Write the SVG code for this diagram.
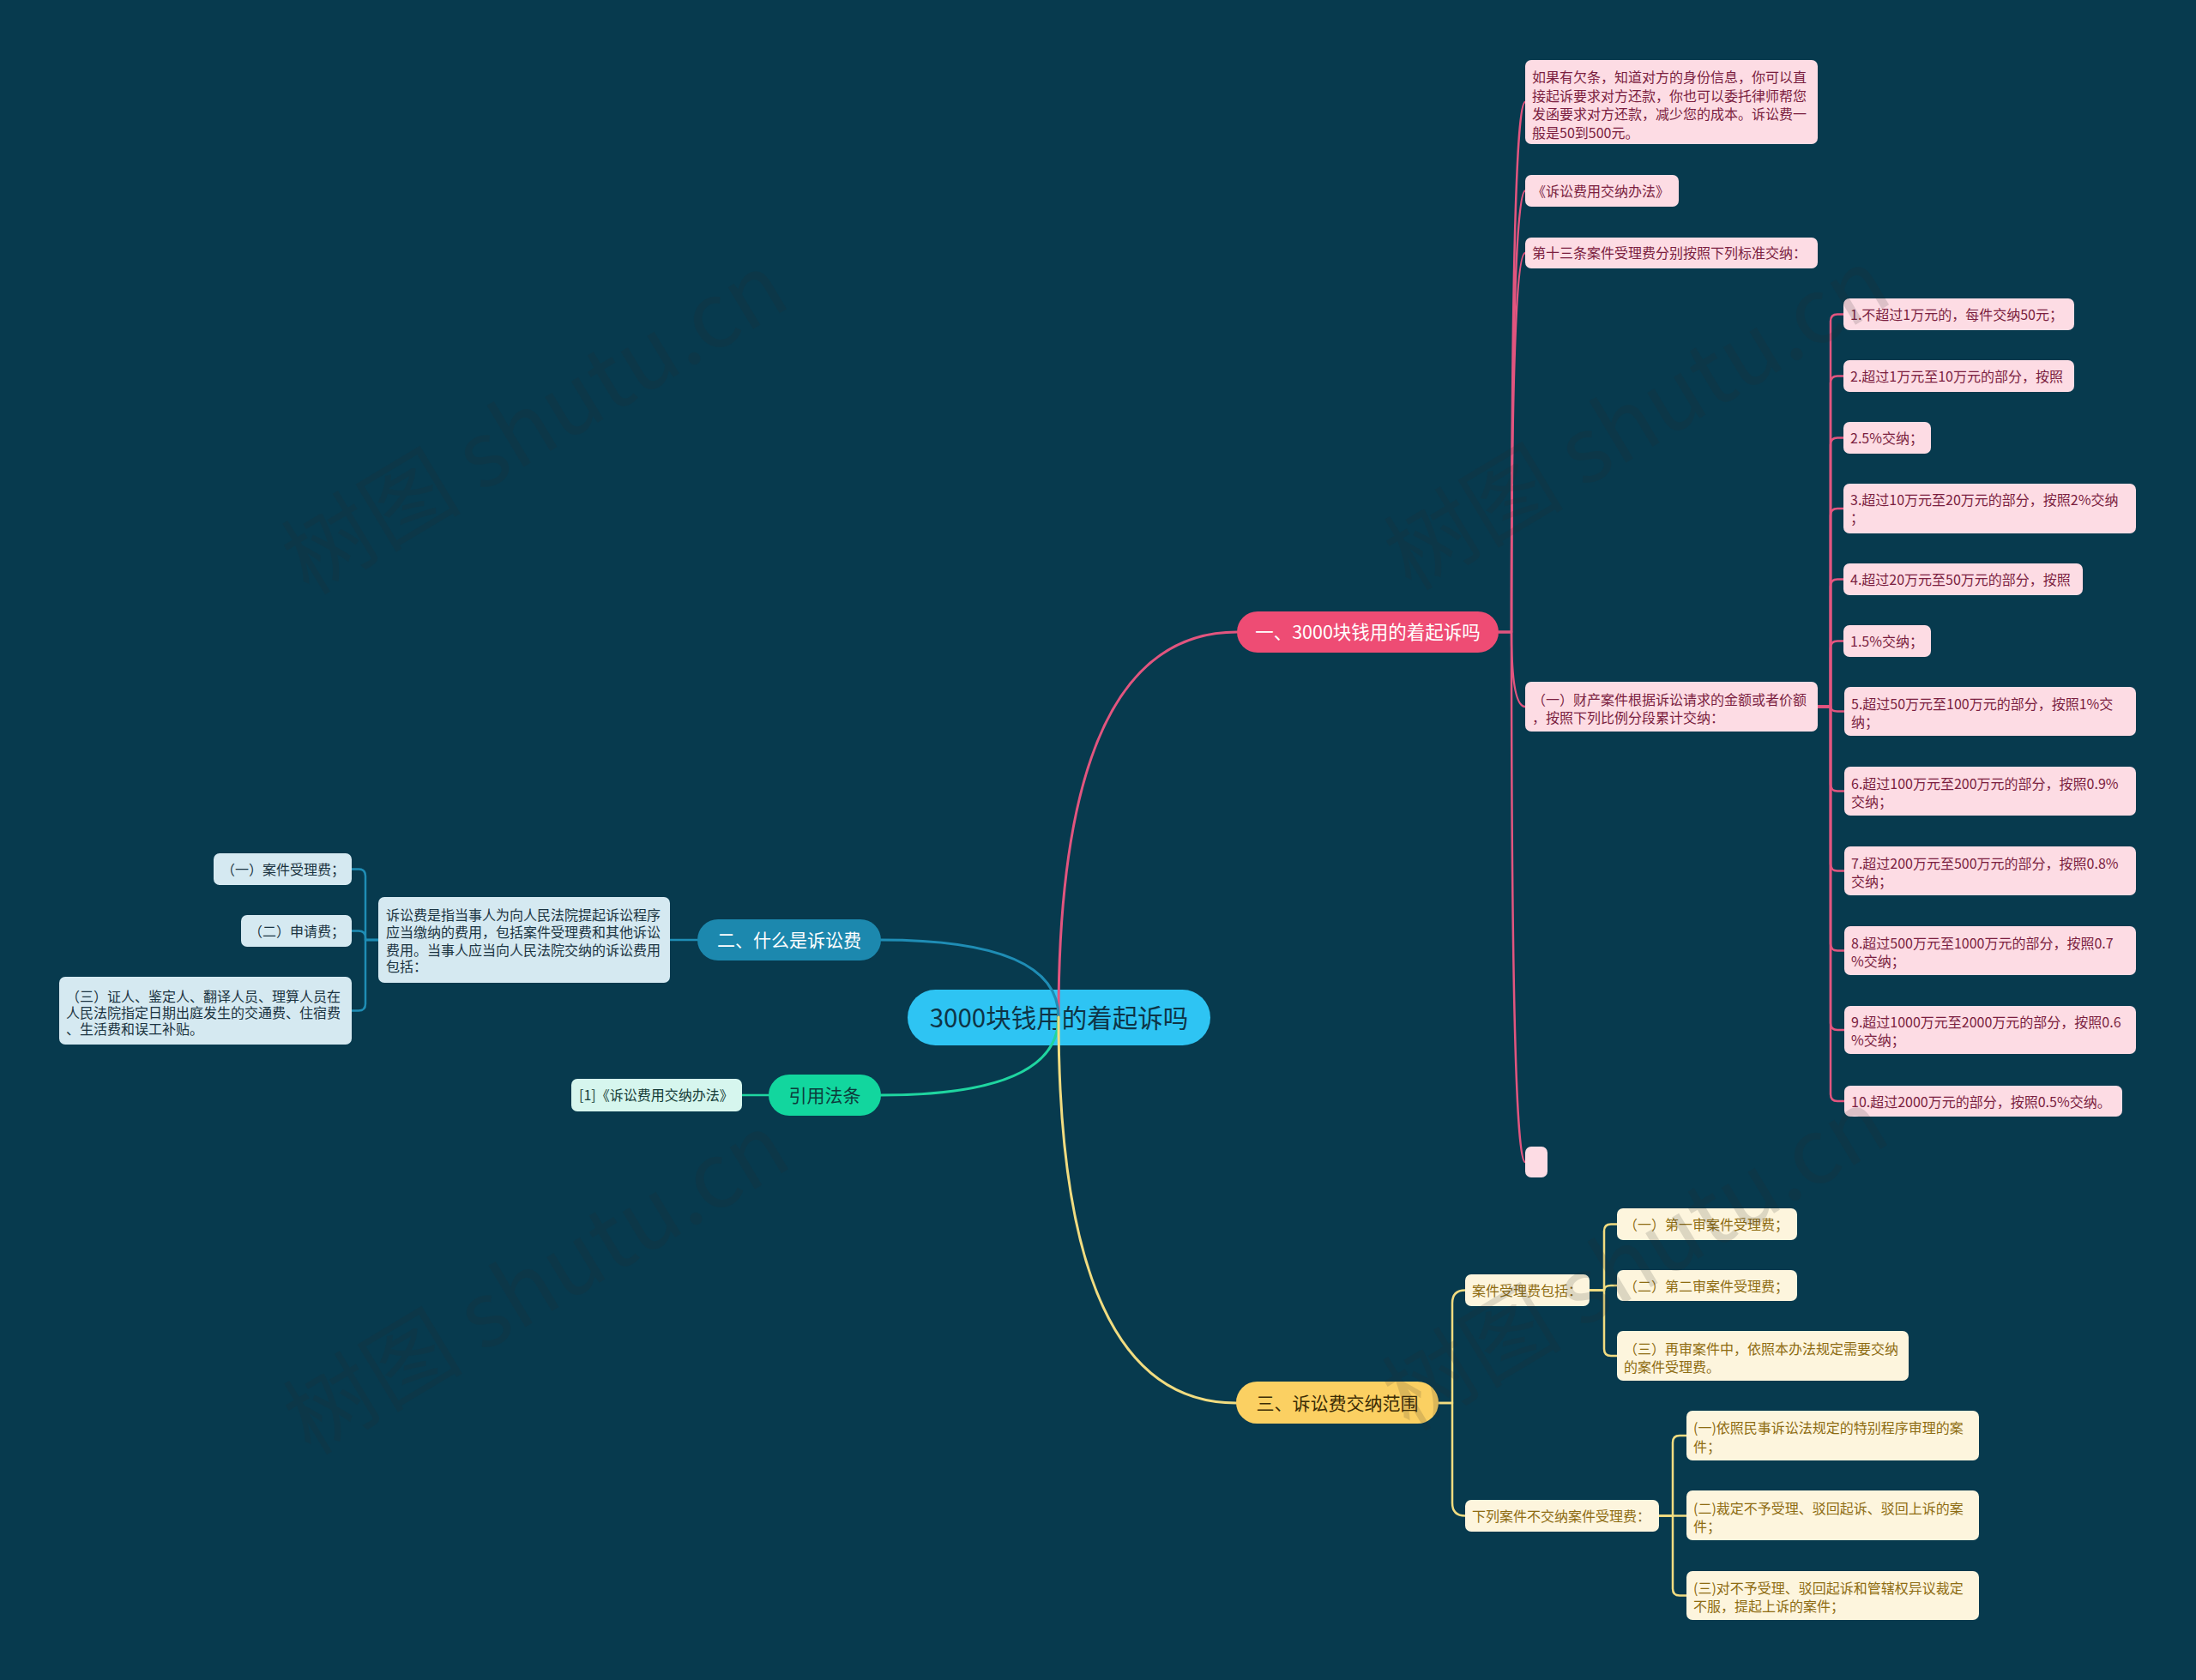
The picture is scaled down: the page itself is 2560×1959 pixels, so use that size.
<svg xmlns="http://www.w3.org/2000/svg" width="2560" height="1959" viewBox="0 0 2560 1959">
<style>
text{font-family:"Noto Sans CJK SC","Noto Sans",sans-serif}
.t{font-size:16px}
.pkb{fill:#fddce4}
.pkt{fill:#7b1e3f}
.blb{fill:#d5e9f1}
.blt{fill:#1b3441}
.grb{fill:#d6f6ee}
.grt{fill:#143b36}
.yeb{fill:#fdf5dd}
.yet{fill:#8e6c12}
.c{fill:none;stroke-width:2.5;stroke-linecap:round;stroke-linejoin:round}
.cm{fill:none;stroke-width:3;stroke-linecap:round}
.pk{stroke:#e2557f}
.bl{stroke:#1f8db5}
.gr{stroke:#1fd5a0}
.ye{stroke:#f1dc80}
.wm{font-size:105px;fill:#2a2a2a;opacity:0.15}
</style>
<rect x="0" y="0" width="2560" height="1959" fill="#073a4e"/>

<g id="root">
<rect x="1058" y="1154" width="353" height="65" rx="32.5" fill="#2ec4f3"/>
<text x="1234.5" y="1197.5" text-anchor="middle" font-size="29.5" fill="#0e3446">3000块钱用的着起诉吗</text>
</g>

<g id="connectors">
<path class="cm pk" d="M1234,1186 Q1234,737 1442,737"/>
<path class="cm bl" d="M1234,1186 Q1234,1096 1027,1096"/>
<path class="cm gr" d="M1234,1186 Q1234,1277 1027,1277"/>
<path class="cm ye" d="M1234,1186 Q1234,1636 1441,1636"/>

<path class="c pk" d="M1747,737 H1762 Q1762,119 1778,119"/>
<path class="c pk" d="M1747,737 H1762 Q1762,222.5 1778,222.5"/>
<path class="c pk" d="M1747,737 H1762 Q1762,295 1778,295"/>
<path class="c pk" d="M1747,737 H1762 Q1762,824 1778,824"/>
<path class="c pk" d="M1747,737 H1762 Q1762,1355 1778,1355"/>

<path class="c pk" d="M2119,824 H2134 V374.5 Q2134,366.5 2142,366.5 H2150"/>
<path class="c pk" d="M2119,824 H2134 V446.5 Q2134,438.5 2142,438.5 H2150"/>
<path class="c pk" d="M2119,824 H2134 V518.5 Q2134,510.5 2142,510.5 H2150"/>
<path class="c pk" d="M2119,824 H2134 V601 Q2134,593 2142,593 H2150"/>
<path class="c pk" d="M2119,824 H2134 V683.5 Q2134,675.5 2142,675.5 H2150"/>
<path class="c pk" d="M2119,824 H2134 V755.5 Q2134,747.5 2142,747.5 H2150"/>
<path class="c pk" d="M2119,824 H2134 Q2134,829.5 2142,829.5 H2150"/>
<path class="c pk" d="M2119,824 H2134 V914.5 Q2134,922.5 2142,922.5 H2150"/>
<path class="c pk" d="M2119,824 H2134 V1007.5 Q2134,1015.5 2142,1015.5 H2150"/>
<path class="c pk" d="M2119,824 H2134 V1100.5 Q2134,1108.5 2142,1108.5 H2150"/>
<path class="c pk" d="M2119,824 H2134 V1193 Q2134,1201 2142,1201 H2150"/>
<path class="c pk" d="M2119,824 H2134 V1276 Q2134,1284 2142,1284 H2150"/>

<path class="c bl" d="M813,1096 H781"/>
<path class="c bl" d="M441,1096 H426 V1021.5 Q426,1013.5 418,1013.5 H410"/>
<path class="c bl" d="M441,1096 H426 V1093.5 Q426,1085.5 418,1085.5 H410"/>
<path class="c bl" d="M441,1096 H426 V1170.5 Q426,1178.5 418,1178.5 H410"/>

<path class="c gr" d="M896,1277 H865"/>

<path class="c ye" d="M1677,1636 H1693 V1519.5 Q1693,1504.5 1708,1504.5"/>
<path class="c ye" d="M1677,1636 H1693 V1752.5 Q1693,1767.5 1708,1767.5"/>
<path class="c ye" d="M1853,1504.5 H1870 V1435.5 Q1870,1427.5 1878,1427.5 H1885"/>
<path class="c ye" d="M1853,1504.5 H1870 Q1870,1499 1878,1499 H1885"/>
<path class="c ye" d="M1853,1504.5 H1870 V1573 Q1870,1581 1878,1581 H1885"/>
<path class="c ye" d="M1934,1767.5 H1950 V1682 Q1950,1674 1958,1674 H1966"/>
<path class="c ye" d="M1934,1767.5 H1966"/>
<path class="c ye" d="M1934,1767.5 H1950 V1852.5 Q1950,1860.5 1958,1860.5 H1966"/>
</g>

<g id="b1">
<rect x="1442" y="713" width="305" height="48" rx="24" fill="#ee4c74"/>
<text x="1594.5" y="745" text-anchor="middle" font-size="21.5" fill="#ffffff">一、3000块钱用的着起诉吗</text>
</g>
<g id="b2">
<rect x="813" y="1072" width="214" height="48" rx="24" fill="#1c88ae"/>
<text x="920" y="1104" text-anchor="middle" font-size="21" fill="#ffffff">二、什么是诉讼费</text>
</g>
<g id="b3">
<rect x="896" y="1253" width="131" height="48" rx="24" fill="#12d69e"/>
<text x="961.5" y="1285" text-anchor="middle" font-size="21" fill="#0c3b3b">引用法条</text>
</g>
<g id="b4">
<rect x="1441" y="1611" width="236" height="49" rx="24.5" fill="#fbd062"/>
<text x="1559" y="1644" text-anchor="middle" font-size="21" fill="#3b2c05">三、诉讼费交纳范围</text>
</g>

<g id="p1"><rect class="pkb" x="1778" y="70" width="341" height="98" rx="7"/>
<text class="t pkt" x="1786" y="96">如果有欠条，知道对方的身份信息，你可以直</text>
<text class="t pkt" x="1786" y="117.5">接起诉要求对方还款，你也可以委托律师帮您</text>
<text class="t pkt" x="1786" y="139">发函要求对方还款，减少您的成本。诉讼费一</text>
<text class="t pkt" x="1786" y="160.5">般是50到500元。</text></g>
<g id="p2"><rect class="pkb" x="1778" y="204" width="179" height="37" rx="7"/>
<text class="t pkt" x="1786" y="229">《诉讼费用交纳办法》</text></g>
<g id="p3"><rect class="pkb" x="1778" y="277" width="341" height="36" rx="7"/>
<text class="t pkt" x="1786" y="301">第十三条案件受理费分别按照下列标准交纳：</text></g>
<g id="p4"><rect class="pkb" x="1778" y="795" width="341" height="58" rx="7"/>
<text class="t pkt" x="1786" y="822">（一）财产案件根据诉讼请求的金额或者价额</text>
<text class="t pkt" x="1786" y="843">，按照下列比例分段累计交纳：</text></g>
<g id="p5"><rect class="pkb" x="1778" y="1337" width="26" height="36" rx="7"/></g>

<g id="p41"><rect class="pkb" x="2149" y="348" width="269" height="37" rx="7"/>
<text class="t pkt" x="2157" y="373">1.不超过1万元的，每件交纳50元；</text></g>
<g id="p42"><rect class="pkb" x="2149" y="420" width="269" height="37" rx="7"/>
<text class="t pkt" x="2157" y="445">2.超过1万元至10万元的部分，按照</text></g>
<g id="p43"><rect class="pkb" x="2149" y="492" width="102" height="37" rx="7"/>
<text class="t pkt" x="2157" y="517">2.5%交纳；</text></g>
<g id="p44"><rect class="pkb" x="2149" y="564" width="341" height="58" rx="7"/>
<text class="t pkt" x="2157" y="588.5">3.超过10万元至20万元的部分，按照2%交纳</text>
<text class="t pkt" x="2157" y="609.5">；</text></g>
<g id="p45"><rect class="pkb" x="2149" y="657" width="279" height="37" rx="7"/>
<text class="t pkt" x="2157" y="682">4.超过20万元至50万元的部分，按照</text></g>
<g id="p46"><rect class="pkb" x="2149" y="729" width="102" height="37" rx="7"/>
<text class="t pkt" x="2157" y="754">1.5%交纳；</text></g>
<g id="p47"><rect class="pkb" x="2150" y="801" width="340" height="57" rx="7"/>
<text class="t pkt" x="2158" y="826.5">5.超过50万元至100万元的部分，按照1%交</text>
<text class="t pkt" x="2158" y="847.5">纳；</text></g>
<g id="p48"><rect class="pkb" x="2150" y="894" width="340" height="57" rx="7"/>
<text class="t pkt" x="2158" y="919.5">6.超过100万元至200万元的部分，按照0.9%</text>
<text class="t pkt" x="2158" y="940.5">交纳；</text></g>
<g id="p49"><rect class="pkb" x="2150" y="987" width="340" height="57" rx="7"/>
<text class="t pkt" x="2158" y="1012.5">7.超过200万元至500万元的部分，按照0.8%</text>
<text class="t pkt" x="2158" y="1033.5">交纳；</text></g>
<g id="p410"><rect class="pkb" x="2150" y="1080" width="340" height="57" rx="7"/>
<text class="t pkt" x="2158" y="1105.5">8.超过500万元至1000万元的部分，按照0.7</text>
<text class="t pkt" x="2158" y="1126.5">%交纳；</text></g>
<g id="p411"><rect class="pkb" x="2150" y="1173" width="340" height="56" rx="7"/>
<text class="t pkt" x="2158" y="1198">9.超过1000万元至2000万元的部分，按照0.6</text>
<text class="t pkt" x="2158" y="1219">%交纳；</text></g>
<g id="p412"><rect class="pkb" x="2150" y="1266" width="324" height="36" rx="7"/>
<text class="t pkt" x="2158" y="1290.5">10.超过2000万元的部分，按照0.5%交纳。</text></g>

<g id="q1"><rect class="blb" x="441" y="1046" width="340" height="100" rx="7"/>
<text class="t blt" x="450" y="1073">诉讼费是指当事人为向人民法院提起诉讼程序</text>
<text class="t blt" x="450" y="1093">应当缴纳的费用，包括案件受理费和其他诉讼</text>
<text class="t blt" x="450" y="1114">费用。当事人应当向人民法院交纳的诉讼费用</text>
<text class="t blt" x="450" y="1133">包括：</text></g>
<g id="q11"><rect class="blb" x="249" y="995" width="161" height="37" rx="7"/>
<text class="t blt" x="258" y="1020">（一）案件受理费；</text></g>
<g id="q12"><rect class="blb" x="281" y="1067" width="129" height="37" rx="7"/>
<text class="t blt" x="290" y="1092">（二）申请费；</text></g>
<g id="q13"><rect class="blb" x="69" y="1139" width="341" height="79" rx="7"/>
<text class="t blt" x="77" y="1168">（三）证人、鉴定人、翻译人员、理算人员在</text>
<text class="t blt" x="77" y="1187">人民法院指定日期出庭发生的交通费、住宿费</text>
<text class="t blt" x="77" y="1206">、生活费和误工补贴。</text></g>

<g id="g1"><rect class="grb" x="666" y="1258" width="199" height="38" rx="7"/>
<text class="t grt" x="675" y="1283">[1]《诉讼费用交纳办法》</text></g>

<g id="y1"><rect class="yeb" x="1708" y="1486" width="145" height="37" rx="7"/>
<text class="t yet" x="1716" y="1511">案件受理费包括：</text></g>
<g id="y11"><rect class="yeb" x="1885" y="1409" width="210" height="37" rx="7"/>
<text class="t yet" x="1893" y="1434">（一）第一审案件受理费；</text></g>
<g id="y12"><rect class="yeb" x="1885" y="1481" width="210" height="36" rx="7"/>
<text class="t yet" x="1893" y="1505.5">（二）第二审案件受理费；</text></g>
<g id="y13"><rect class="yeb" x="1885" y="1552" width="340" height="58" rx="7"/>
<text class="t yet" x="1893" y="1579">（三）再审案件中，依照本办法规定需要交纳</text>
<text class="t yet" x="1893" y="1600">的案件受理费。</text></g>
<g id="y2"><rect class="yeb" x="1708" y="1749" width="226" height="37" rx="7"/>
<text class="t yet" x="1716" y="1774">下列案件不交纳案件受理费：</text></g>
<g id="y21"><rect class="yeb" x="1966" y="1645" width="341" height="58" rx="7"/>
<text class="t yet" x="1974" y="1671">(一)依照民事诉讼法规定的特别程序审理的案</text>
<text class="t yet" x="1974" y="1692.5">件；</text></g>
<g id="y22"><rect class="yeb" x="1966" y="1738" width="341" height="58" rx="7"/>
<text class="t yet" x="1974" y="1764.5">(二)裁定不予受理、驳回起诉、驳回上诉的案</text>
<text class="t yet" x="1974" y="1785.5">件；</text></g>
<g id="y23"><rect class="yeb" x="1966" y="1832" width="341" height="57" rx="7"/>
<text class="t yet" x="1974" y="1857.5">(三)对不予受理、驳回起诉和管辖权异议裁定</text>
<text class="t yet" x="1974" y="1878.5">不服，提起上诉的案件；</text></g>

<g id="watermarks">
<text class="wm" x="360" y="695" transform="rotate(-31 360 695)">树图 shutu.cn</text>
<text class="wm" x="1645" y="690" transform="rotate(-31 1645 690)">树图 shutu.cn</text>
<text class="wm" x="362" y="1698" transform="rotate(-31 362 1698)">树图 shutu.cn</text>
<text class="wm" x="1643" y="1670" transform="rotate(-31 1643 1670)">树图 shutu.cn</text>
</g>
</svg>
